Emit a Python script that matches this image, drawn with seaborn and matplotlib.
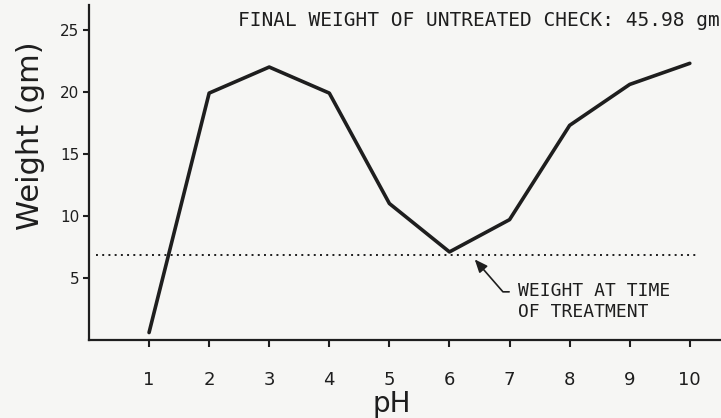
import matplotlib
matplotlib.use("Agg")
import matplotlib.pyplot as plt
import pandas as pd
import seaborn as sns

# values
ph = [1, 2, 3, 4, 5, 6, 7, 8, 9, 10]
weight = [0.6, 19.9, 22.0, 19.9, 11.0, 7.1, 9.7, 17.3, 20.6, 22.3]
treatment_weight = 6.85
x_ticks = [1, 2, 3, 4, 5, 6, 7, 8, 9, 10]
y_ticks = [5, 10, 15, 20, 25]

PAPER = "#f6f6f4"
INK = "#1e1e1e"

sns.set_style("ticks")
plt.rcParams["font.family"] = ["DejaVu Sans"]

df = pd.DataFrame({"pH": ph, "weight": weight})

fig = plt.figure(figsize=(7.21, 4.18), dpi=100, facecolor=PAPER)
ax = fig.add_axes([0.1234, 0.1866, 0.875, 0.8014], facecolor=PAPER)

sns.lineplot(data=df, x="pH", y="weight", color=INK, linewidth=2.6, ax=ax)

# weight at time of treatment
ax.hlines(treatment_weight, 0.12, 10.1, colors=INK, linewidth=1.4,
          linestyles=(0, (1, 2.2)))

ax.set_xlim(0, 10.5)
ax.set_ylim(0, 27)
ax.set_xticks(x_ticks)
ax.set_yticks(y_ticks)
ax.tick_params(axis="x", length=5, width=1.5, pad=17, labelsize=13, colors=INK)
ax.tick_params(axis="y", length=4, width=1.5, pad=3, labelsize=11, colors=INK)

sns.despine(ax=ax)
for side in ["left", "bottom"]:
    ax.spines[side].set_linewidth(1.6)
    ax.spines[side].set_color(INK)

ax.set_xlabel("pH", fontsize=20, color=INK)
ax.xaxis.set_label_coords(0.48, -0.15)
ax.set_ylabel("Weight (gm)", fontsize=22, color=INK)
ax.yaxis.set_label_coords(-0.07, 0.61)

mono = ["DejaVu Sans Mono"]
ax.text(1.0, 0.955, "FINAL WEIGHT OF UNTREATED CHECK: 45.98 gm",
        transform=ax.transAxes, ha="right", va="center",
        fontsize=14, family=mono, color=INK)

ax.annotate("WEIGHT AT TIME\nOF TREATMENT", xy=(6.42, 6.5), xytext=(7.14, 3.1),
            textcoords="data", ha="left", va="center", fontsize=13,
            family=mono, color=INK, linespacing=1.2,
            arrowprops=dict(arrowstyle="-|>,head_length=0.6,head_width=0.25",
                            connectionstyle="angle,angleA=0,angleB=131,rad=0",
                            relpos=(0, 0.75), shrinkA=4, shrinkB=0,
                            color=INK, lw=1.2))

fig.savefig("out.png", dpi=100, facecolor=PAPER)
